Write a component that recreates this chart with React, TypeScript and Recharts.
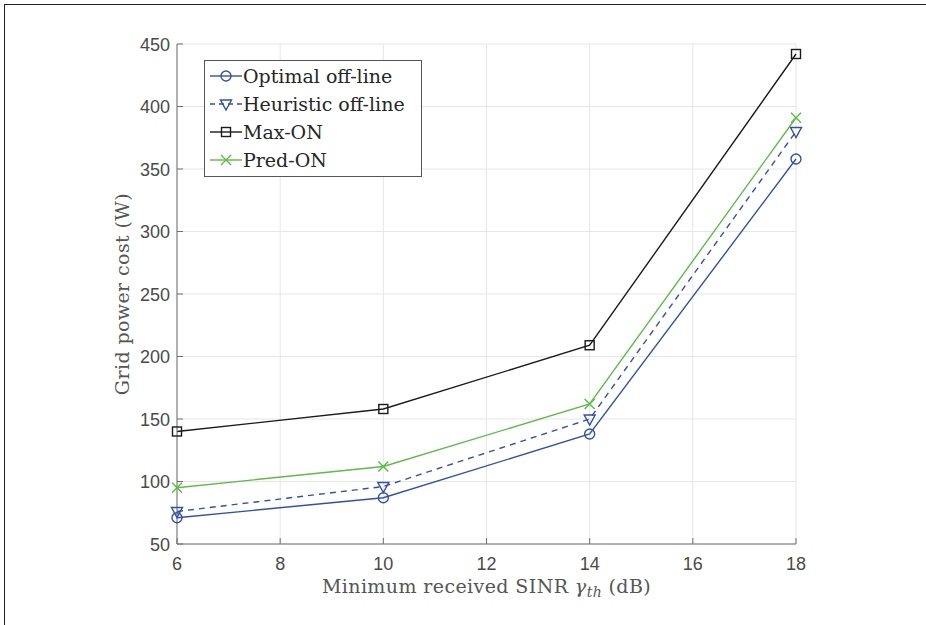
import { CartesianGrid, Legend, Line, LineChart, XAxis, YAxis } from "recharts";

// values
const sinrDb = [6, 10, 14, 18];
const optimalOffline = [71, 87, 138, 358];
const heuristicOffline = [76, 96, 150, 380];
const maxOn = [140, 158, 209, 442];
const predOn = [95, 112, 162, 391];

const xTicks = [6, 8, 10, 12, 14, 16, 18];
const yTicks = [50, 100, 150, 200, 250, 300, 350, 400, 450];

const BLUE = "#3350a8";
const GREEN = "#5dbb46";
const BLACK = "#1a1a1a";
const AXIS = "#6e6e6e";
const TICK_TXT = "#4a4a4a";
const SANS = "'Liberation Sans', Arial, sans-serif";
const SERIF = "'DejaVu Serif', serif";

const data = sinrDb.map((s, i) => ({
  sinr: s,
  optimal: optimalOffline[i],
  heuristic: heuristicOffline[i],
  maxOn: maxOn[i],
  predOn: predOn[i],
}));

type Kind = "circle" | "triangle" | "square" | "cross";

function Marker({ cx, cy, kind, color }: { cx: number; cy: number; kind: Kind; color: string }) {
  if (cx == null || cy == null) return null;
  const common = { fill: "none", stroke: color, strokeWidth: 1.4 };
  if (kind === "circle") return <circle cx={cx} cy={cy} r={5} {...common} />;
  if (kind === "triangle")
    return <path d={`M${cx - 5.5},${cy - 4} L${cx + 5.5},${cy - 4} L${cx},${cy + 6} Z`} {...common} />;
  if (kind === "square") return <rect x={cx - 4.5} y={cy - 4.5} width={9} height={9} {...common} />;
  return (
    <path d={`M${cx - 5},${cy - 5} L${cx + 5},${cy + 5} M${cx - 5},${cy + 5} L${cx + 5},${cy - 5}`} {...common} />
  );
}

const series = [
  { key: "optimal", name: "Optimal off-line", color: BLUE, kind: "circle" as Kind, dash: undefined },
  { key: "heuristic", name: "Heuristic off-line", color: BLUE, kind: "triangle" as Kind, dash: "6 5" },
  { key: "maxOn", name: "Max-ON", color: BLACK, kind: "square" as Kind, dash: undefined },
  { key: "predOn", name: "Pred-ON", color: GREEN, kind: "cross" as Kind, dash: undefined },
];

function BottomTick({ x, y, payload }: any) {
  return (
    <g>
      <line x1={x} y1={y} x2={x} y2={y - 6} stroke={AXIS} />
      <text x={x} y={y + 26} textAnchor="middle" fill={TICK_TXT} fontSize={18} fontFamily={SANS}>
        {payload.value}
      </text>
    </g>
  );
}

function TopTick({ x, y }: any) {
  return <line x1={x} y1={y} x2={x} y2={y + 6} stroke={AXIS} />;
}

function LeftTick({ x, y, payload }: any) {
  return (
    <g>
      <line x1={x} y1={y} x2={x + 6} y2={y} stroke={AXIS} />
      <text x={x - 7} y={y + 6.5} textAnchor="end" fill={TICK_TXT} fontSize={18} fontFamily={SANS}>
        {payload.value}
      </text>
    </g>
  );
}

function RightTick({ x, y }: any) {
  return <line x1={x} y1={y} x2={x - 6} y2={y} stroke={AXIS} />;
}

function XTitle(props: any) {
  const vb = props.viewBox;
  return (
    <text
      x={vb.x + vb.width / 2}
      y={vb.y + 49}
      textAnchor="middle"
      fill="#555"
      fontSize={19}
      letterSpacing={0.4}
      fontFamily={SERIF}
    >
      Minimum received SINR{" "}
      <tspan fontStyle="italic">γ</tspan>
      <tspan fontStyle="italic" fontSize={14} dy={4}>
        th
      </tspan>
      <tspan dy={-4}> (dB)</tspan>
    </text>
  );
}

function YTitle() {
  return (
    <text
      x={122}
      y={294}
      transform="rotate(-90, 122, 294)"
      textAnchor="middle"
      dominantBaseline="central"
      fill="#555"
      fontSize={19}
      letterSpacing={0.4}
      fontFamily={SERIF}
    >
      Grid power cost (W)
    </text>
  );
}

function LegendBox() {
  return (
    <div
      style={{
        border: "1px solid #555",
        background: "#fff",
        width: 218,
        height: 117,
        boxSizing: "border-box",
        paddingTop: 1,
      }}
    >
      {series.map((s) => (
        <div key={s.key} style={{ display: "flex", alignItems: "center", height: 28 }}>
          <svg width={35} height={20} style={{ marginLeft: 3 }}>
            <line x1={2} y1={10} x2={34} y2={10} stroke={s.color} strokeWidth={1.4} strokeDasharray={s.dash ? "5 4" : undefined} />
            <Marker cx={18} cy={10} kind={s.kind} color={s.color} />
          </svg>
          <span style={{ fontFamily: SERIF, fontSize: 19, color: "#262626", lineHeight: "20px" }}>{s.name}</span>
        </div>
      ))}
    </div>
  );
}

export default function App() {
  return (
    <div style={{ position: "absolute", left: 0, top: 0, width: 926, height: 625, background: "#fff" }}>
      <div
        style={{
          position: "absolute",
          left: 4,
          top: 4,
          width: 922,
          height: 621,
          borderLeft: "1px solid #222",
          borderTop: "1px solid #222",
        }}
      />
      <LineChart width={926} height={625} data={data} margin={{ top: 44, right: 130, left: 117, bottom: 21 }}>
        <CartesianGrid stroke="#e6e6e6" vertical horizontal />
        <XAxis
          dataKey="sinr"
          type="number"
          domain={[6, 18]}
          ticks={xTicks}
          height={60}
          tickSize={0}
          tickMargin={0}
          tickLine={false}
          axisLine={{ stroke: AXIS }}
          tick={BottomTick}
          label={{ content: XTitle }}
        />
        <XAxis
          xAxisId="top"
          orientation="top"
          type="number"
          domain={[6, 18]}
          ticks={xTicks}
          height={0}
          tickSize={0}
          tickMargin={0}
          tickLine={false}
          axisLine={{ stroke: AXIS }}
          tick={TopTick}
        />
        <YAxis
          type="number"
          domain={[50, 450]}
          ticks={yTicks}
          width={60}
          tickSize={0}
          tickMargin={0}
          tickLine={false}
          axisLine={{ stroke: AXIS }}
          tick={LeftTick}
          label={{ content: YTitle }}
        />
        <YAxis
          yAxisId="right"
          orientation="right"
          type="number"
          domain={[50, 450]}
          ticks={yTicks}
          width={0}
          tickSize={0}
          tickMargin={0}
          tickLine={false}
          axisLine={{ stroke: AXIS }}
          tick={RightTick}
        />
        <Legend
          layout="horizontal"
          verticalAlign="middle"
          align="center"
          wrapperStyle={{ left: 204, top: 60, width: 218 }}
          content={() => <LegendBox />}
        />
        {series.map((s) => (
          <Line
            key={s.key}
            dataKey={s.key}
            name={s.name}
            type="linear"
            stroke={s.color}
            strokeWidth={1.4}
            strokeDasharray={s.dash}
            isAnimationActive={false}
            dot={(p: any) => <Marker key={`${s.key}-${p.index}`} cx={p.cx} cy={p.cy} kind={s.kind} color={s.color} />}
            activeDot={false}
          />
        ))}
      </LineChart>
    </div>
  );
}
